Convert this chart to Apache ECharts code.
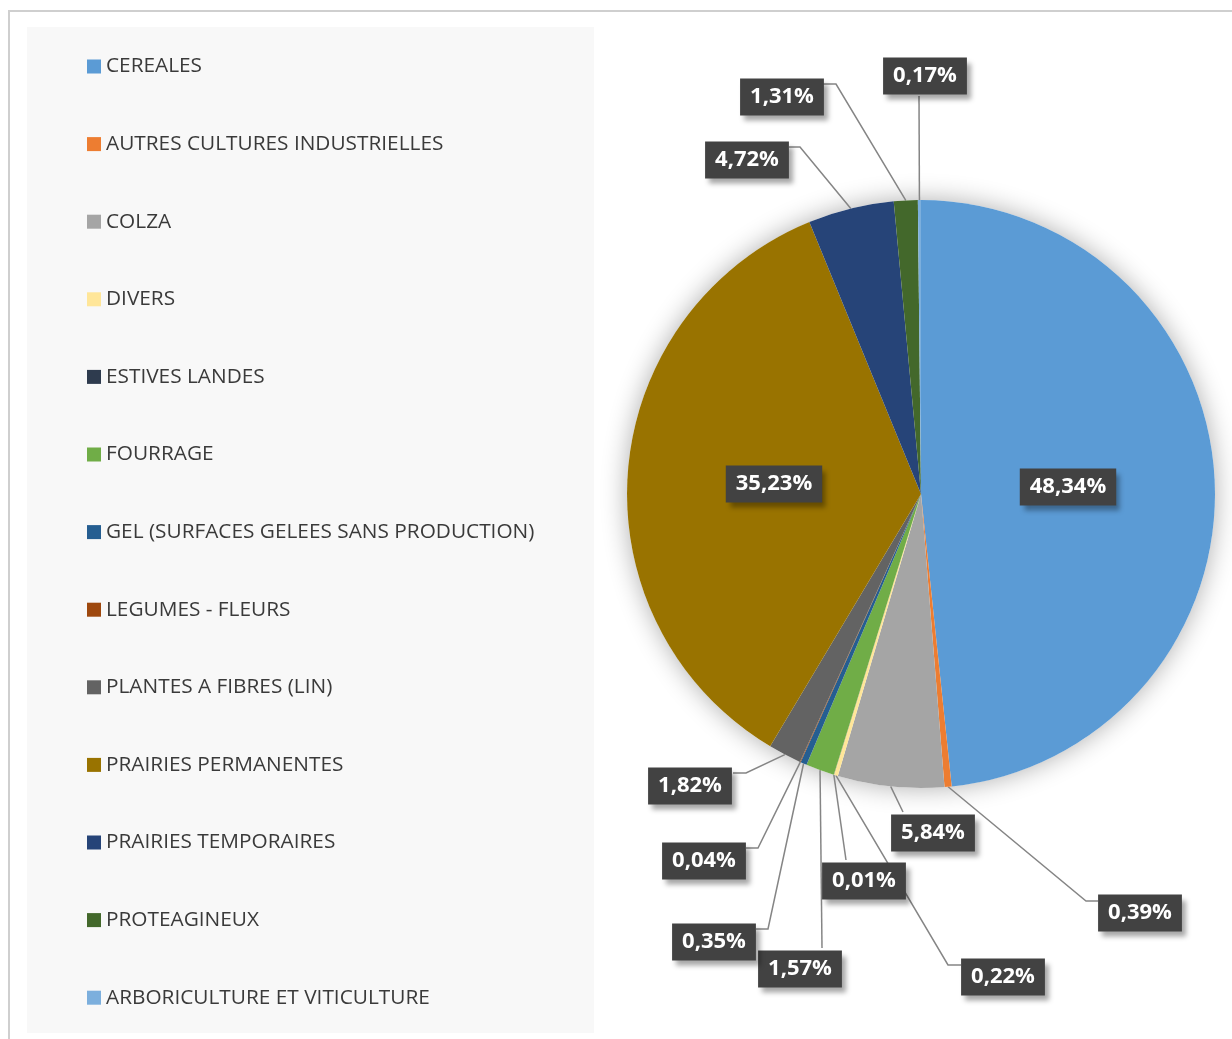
<!DOCTYPE html>
<html>
<head>
<meta charset="utf-8">
<script src="https://cdn.jsdelivr.net/npm/echarts@6/dist/echarts.min.js"></script>
<style>
html,body{margin:0;padding:0;background:#fff;}
#chart{width:1232px;height:1039px;}
</style>
</head>
<body>
<div id="chart"></div>
<script>
// ---- data ----
const categories = [
  'CEREALES',
  'AUTRES CULTURES INDUSTRIELLES',
  'COLZA',
  'DIVERS',
  'ESTIVES LANDES',
  'FOURRAGE',
  'GEL (SURFACES GELEES SANS PRODUCTION)',
  'LEGUMES - FLEURS',
  'PLANTES A FIBRES (LIN)',
  'PRAIRIES PERMANENTES',
  'PRAIRIES TEMPORAIRES',
  'PROTEAGINEUX',
  'ARBORICULTURE ET VITICULTURE'
];
const shares = [48.34, 0.39, 5.84, 0.22, 0.01, 1.57, 0.35, 0.04, 1.82, 35.23, 4.72, 1.31, 0.17];

// ---- styling ----
const colors = ['#5B9BD5', '#ED7D31', '#A5A5A5', '#FFE699', '#2E3B4E', '#70AD47',
                '#255E91', '#9E480E', '#636363', '#997300', '#264478', '#43682B', '#7CAFDD'];
const pieCenter = [921, 494];
const pieRadius = 294;
// label box centres, leader-line attach points and elbows (layout only)
const labelCenter = [[1068,487],[1140,913],[933,833],[1003,977],[864,881],[800,969],[714,942],[704,861],[690,786],[774,484],[747,160],[782,97],[925,76]];
const labelAttach = [null,[1098,901],[903,812],[961,965],[846,860],[822,948],[756,929],[746,848],[733,773],null,[789,147],[823,84],[919,96]];
const labelElbow  = [null,[1086,901],null,[948,965],null,null,[768,929],[758,848],[746,773],null,[800,147],[836,84],null];
const insideIdx = [0, 9];

const total = shares.reduce((a,b)=>a+b,0);
function edgePoint(i){
  let before = 0;
  for (let k=0;k<i;k++) before += shares[k];
  const mid = (before + shares[i]/2) / total * Math.PI * 2;
  return [pieCenter[0] + pieRadius*Math.sin(mid), pieCenter[1] - pieRadius*Math.cos(mid)];
}

const chart = echarts.init(document.getElementById('chart'), null, {renderer:'canvas'});
const data = categories.map((c,i)=>{
  const d = {name:c, value:shares[i], itemStyle:{color:colors[i]}};
  if (insideIdx.includes(i)) { d.label = {position:'inside'}; d.labelLine = {show:false}; }
  return d;
});

chart.setOption({
  animation:false,
  graphic:[
    {type:'rect', shape:{x:9,y:11,width:1240,height:1040}, style:{fill:'#fff', stroke:'#CFCFCF', lineWidth:2}, z:-10, silent:true},
    {type:'rect', shape:{x:27,y:27,width:567,height:1006}, style:{fill:'#F8F8F8'}, z:-9, silent:true}
  ],
  legend:{
    orient:'vertical', left:87, top:56, padding:0,
    itemWidth:14, itemHeight:14, itemGap:56.6,
    icon:'rect',
    data:categories,
    textStyle:{fontFamily:'Open Sans', fontSize:20.8, lineHeight:20, color:'#3A3A3A'}
  },
  series:[
    {
      type:'pie', silent:true, z:1,
      center:pieCenter, radius:pieRadius, startAngle:90,
      data:[{name:'_bg', value:1, itemStyle:{color:'#fff', shadowBlur:26, shadowColor:'rgba(0,0,0,0.32)'}}],
      label:{show:false}, labelLine:{show:false}, legendHoverLink:false
    },
    {
      type:'pie', z:2,
      center:pieCenter, radius:pieRadius, startAngle:90, clockwise:true,
      avoidLabelOverlap:false,
      data:data,
      itemStyle:{borderWidth:0},
      label:{
        show:true, position:'outside',
        formatter:p=>p.value.toFixed(2).replace('.', ',')+'%',
        fontFamily:'Open Sans', fontWeight:'bold', fontSize:22, color:'#fff',
        backgroundColor:'#424242', padding:[8,10,7,10],
        shadowColor:'rgba(0,0,0,0.35)', shadowBlur:5, shadowOffsetX:4, shadowOffsetY:5
      },
      labelLine:{show:true, smooth:false, lineStyle:{color:'#858585', width:1.5}},
      labelLayout:function(params){
        const i = params.dataIndex;
        const c = labelCenter[i];
        const out = {x:c[0], y:c[1], align:'center', verticalAlign:'middle'};
        if (labelAttach[i]) {
          const pts = [edgePoint(i)];
          if (labelElbow[i]) pts.push(labelElbow[i]);
          pts.push(labelAttach[i]);
          out.labelLinePoints = pts;
        }
        return out;
      }
    }
  ]
});
</script>
</body>
</html>
